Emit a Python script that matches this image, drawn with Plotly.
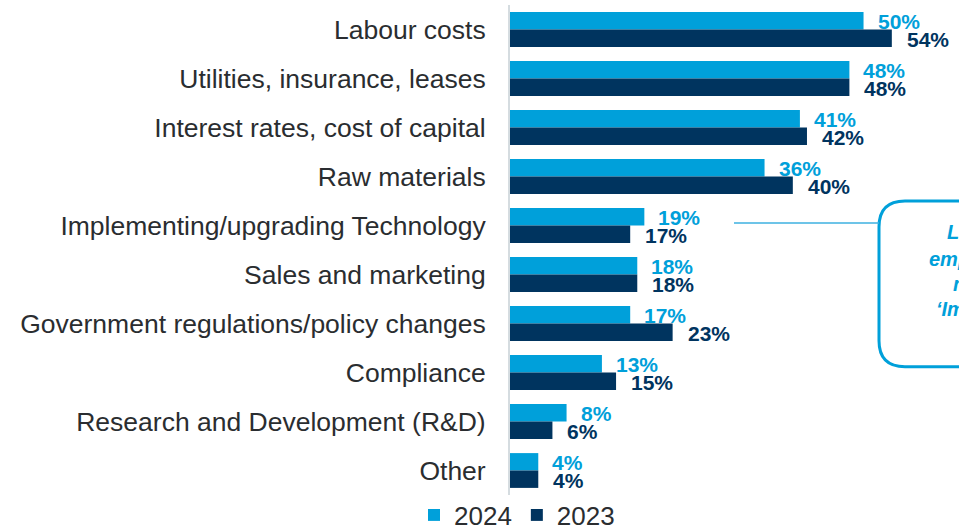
import plotly.graph_objects as go

categories = [
    "Labour costs",
    "Utilities, insurance, leases",
    "Interest rates, cost of capital",
    "Raw materials",
    "Implementing/upgrading Technology",
    "Sales and marketing",
    "Government regulations/policy changes",
    "Compliance",
    "Research and Development (R&D)",
    "Other",
]
values_2024 = [50, 48, 41, 36, 19, 18, 17, 13, 8, 4]
values_2023 = [54, 48, 42, 40, 17, 18, 23, 15, 6, 4]
series_names = ["2024", "2023"]

C_LIGHT = "#00A0DA"
C_DARK = "#00345F"
TXT = "#2A2D30"
FONT = "Liberation Sans, Arial, sans-serif"

W, H = 959, 528
L_M, T_M, B_M = 510, 4.5, 32.5
PW, PH = W - L_M, H - T_M - B_M


def px2x(px):
    return (px - L_M) / PW


def py2y(py):
    return (H - B_M - py) / PH


fig = go.Figure()
fig.add_trace(go.Bar(y=categories, x=values_2024, name=series_names[0], orientation="h",
                     marker=dict(color=C_LIGHT, line=dict(width=0))))
fig.add_trace(go.Bar(y=categories, x=values_2023, name=series_names[1], orientation="h",
                     marker=dict(color=C_DARK, line=dict(width=0))))

annotations = []
for cat, v in zip(categories, values_2024):
    annotations.append(dict(x=v, y=cat, xref="x", yref="y", text=f"<b>{v}%</b>",
                            showarrow=False, xanchor="left", yanchor="middle",
                            xshift=12, yshift=8.5,
                            font=dict(family=FONT, size=21, color=C_LIGHT)))
for cat, v in zip(categories, values_2023):
    annotations.append(dict(x=v, y=cat, xref="x", yref="y", text=f"<b>{v}%</b>",
                            showarrow=False, xanchor="left", yanchor="middle",
                            xshift=13, yshift=-9.5,
                            font=dict(family=FONT, size=21, color=C_DARK)))

# call-out box text (clipped by the figure edge)
box_lines = ["Larger", "employers are", "more likely to cite", "\u2018Implementing/upgrading"]
box_x = [947, 929, 953, 936]
box_y = [232, 259, 284, 309]
for t, px, py in zip(box_lines, box_x, box_y):
    annotations.append(dict(x=px2x(px), y=py2y(py), xref="paper", yref="paper",
                            text=f"<b><i>{t}</i></b>", showarrow=False, xanchor="left",
                            yanchor="middle", xshift=-2,
                            font=dict(family=FONT, size=20, color=C_LIGHT)))

bx0, by_top, by_bot = px2x(879), py2y(201), py2y(367)
rx, ry = 26 / PW, 26 / PH
path = (f"M {bx0+rx},{by_top} L 1.4,{by_top} L 1.4,{by_bot} L {bx0+rx},{by_bot} "
        f"Q {bx0},{by_bot} {bx0},{by_bot+ry} L {bx0},{by_top-ry} Q {bx0},{by_top} {bx0+rx},{by_top} Z")
shapes = [
    dict(type="path", path=path, xref="paper", yref="paper",
         line=dict(color=C_LIGHT, width=3), fillcolor="rgba(0,0,0,0)"),
    dict(type="line", xref="paper", yref="paper", x0=px2x(734), x1=bx0, y0=py2y(223), y1=py2y(223),
         line=dict(color="#3DB0E0", width=1.5)),
]

fig.update_layout(
    template="none",
    width=W, height=H,
    margin=dict(l=L_M, r=0, t=T_M, b=B_M, pad=0, autoexpand=False),
    paper_bgcolor="white", plot_bgcolor="white",
    barmode="group", bargap=0.29, bargroupgap=0,
    font=dict(family=FONT, color=TXT),
    showlegend=True,
    legend=dict(orientation="h", xref="container", yref="container",
                x=517 / W, xanchor="center", y=(H - 515) / H, yanchor="middle",
                font=dict(family=FONT, size=26, color=TXT), itemwidth=30,
                bgcolor="rgba(0,0,0,0)", traceorder="normal"),
    xaxis=dict(range=[0, 63.5], visible=False, showgrid=False, zeroline=False, automargin=False),
    yaxis=dict(autorange="reversed", showgrid=False, zeroline=False, automargin=False,
               showline=True, linecolor="#D5DCE0", linewidth=2,
               ticks="", ticklabelstandoff=17,
               tickfont=dict(family=FONT, size=26.5, color=TXT)),
    annotations=annotations,
    shapes=shapes,
)

fig.write_html("out.html", config={"displayModeBar": False},
               post_script="document.body.style.margin='0';document.body.style.overflow='hidden';")
